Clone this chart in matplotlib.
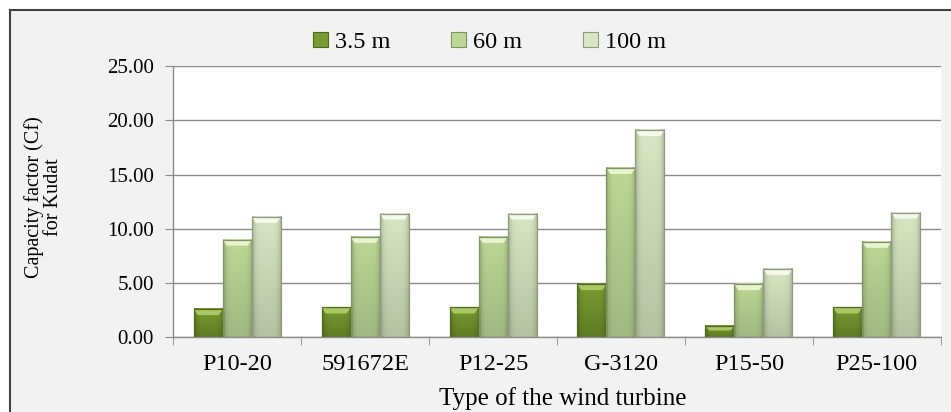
import matplotlib.pyplot as plt
import numpy as np
from matplotlib.colors import to_rgb
from matplotlib.patches import Patch, Polygon, Rectangle

turbines = ['P10-20', '591672E', 'P12-25', 'G-3120', 'P15-50', 'P25-100']
heights = ['3.5 m', '60 m', '100 m']
cf_3_5m = [2.6, 2.75, 2.75, 4.9, 1.05, 2.75]
cf_60m = [9.0, 9.25, 9.25, 15.6, 4.9, 8.8]
cf_100m = [11.1, 11.4, 11.4, 19.1, 6.3, 11.5]

# top colour, bottom colour, cap colour, edge colour
styles = [
    ('#7a9a33', '#5f7d22', '#a9c864', '#4f6a1a'),
    ('#bcd894', '#9fb981', '#e8f4cf', '#7f9466'),
    ('#d8e6c3', '#b5c3a0', '#f4f9ea', '#8f9a80'),
]

plt.rcParams['font.family'] = ['Liberation Serif', 'DejaVu Serif']

fig = plt.figure(figsize=(9.51, 4.12), dpi=100)
fig.patch.set_facecolor('white')
# grey chart area with dark frame (left/top visible, rest cropped)
fig.patches.append(Rectangle((10 / 951, -0.2), 1.2, 1.2 - 10 / 412, transform=fig.transFigure,
                             facecolor='#f2f2f2', edgecolor='#404040', lw=1.5, zorder=-10))

ax = fig.add_axes([173.3 / 951, 1 - 337.3 / 412, 767.4 / 951, 271.3 / 412])
ax.set_zorder(2)
ax.set_facecolor('white')

x = np.arange(len(turbines))
w = 0.227
px_x = 6 / 767.4
px_y = 25 / 271.3


def shade_bar(bar, top_col, bot_col, cap_col):
    bx, by = bar.get_x(), bar.get_y()
    bw, bh = bar.get_width(), bar.get_height()
    t = np.linspace(0, 1, 64)[:, None]
    col = np.array(to_rgb(top_col)) * (1 - t) + np.array(to_rgb(bot_col)) * t
    s = np.linspace(-1, 1, 32)
    edge = 1 - 0.22 * np.abs(s) ** 5
    img = col[:, None, :] * edge[None, :, None]
    ax.imshow(img, extent=(bx, bx + bw, by, by + bh), aspect='auto', zorder=2,
              interpolation='bilinear')
    d, c = 4 * px_x, min(6 * px_y, bh * 0.4)
    top = by + bh
    ax.add_patch(Polygon([(bx, top), (bx + bw, top), (bx + bw - d, top - c), (bx + d, top - c)],
                         closed=True, facecolor=cap_col, edgecolor='none', zorder=2.5))


handles = []
for k, vals in enumerate([cf_3_5m, cf_60m, cf_100m]):
    top_col, bot_col, cap_col, edge_col = styles[k]
    bars = ax.bar(x + (k - 1) * w, vals, width=w, facecolor='none', edgecolor=edge_col,
                  lw=0.9, zorder=3)
    for b in bars:
        shade_bar(b, top_col, bot_col, cap_col)
    handles.append(Patch(facecolor=top_col, edgecolor=edge_col, lw=0.8, label=heights[k]))

ax.set_xlim(-0.5, 5.5)
ax.set_ylim(0, 25)
ax.set_yticks(np.arange(0, 26, 5))
ax.set_yticklabels(['%.2f' % v for v in np.arange(0, 26, 5)], fontsize=15)
ax.set_xticks(x)
ax.set_xticklabels(turbines, fontsize=17.5)
ax.set_xticks(np.arange(-0.5, 6, 1), minor=True)
ax.tick_params(axis='x', which='major', length=0, pad=12)
ax.tick_params(axis='x', which='minor', length=6, color='#8c8c8c', direction='out')
ax.tick_params(axis='y', length=6, color='#8c8c8c', pad=8)

ax.yaxis.grid(True, color='#8c8c8c', lw=1)
ax.set_axisbelow(True)
for side in ['top', 'right']:
    ax.spines[side].set_visible(False)
for side in ['left', 'bottom']:
    ax.spines[side].set_color('#8c8c8c')
    ax.spines[side].set_linewidth(1)

ax.set_xlabel('Type of the wind turbine', fontsize=18, labelpad=8)
ax.xaxis.set_label_coords((563 - 173.3) / 767.4, -(412 - 337.3 - 2) / 271.3)
ax.xaxis.label.set_va('bottom')
fig.text(43.5 / 951, 1 - 197 / 412, 'Capacity factor (Cf)\nfor Kudat', rotation=90,
         ha='center', va='center', multialignment='center', fontsize=14.5, linespacing=1.0)

fig.legend(handles=handles, loc='center', bbox_to_anchor=(489.5 / 951, 1 - 42.7 / 412),
           ncol=3, frameon=False, fontsize=17.5, handlelength=0.6, handleheight=0.6,
           handletextpad=0.3, columnspacing=2.5)

fig.savefig('out.png', dpi=100)
